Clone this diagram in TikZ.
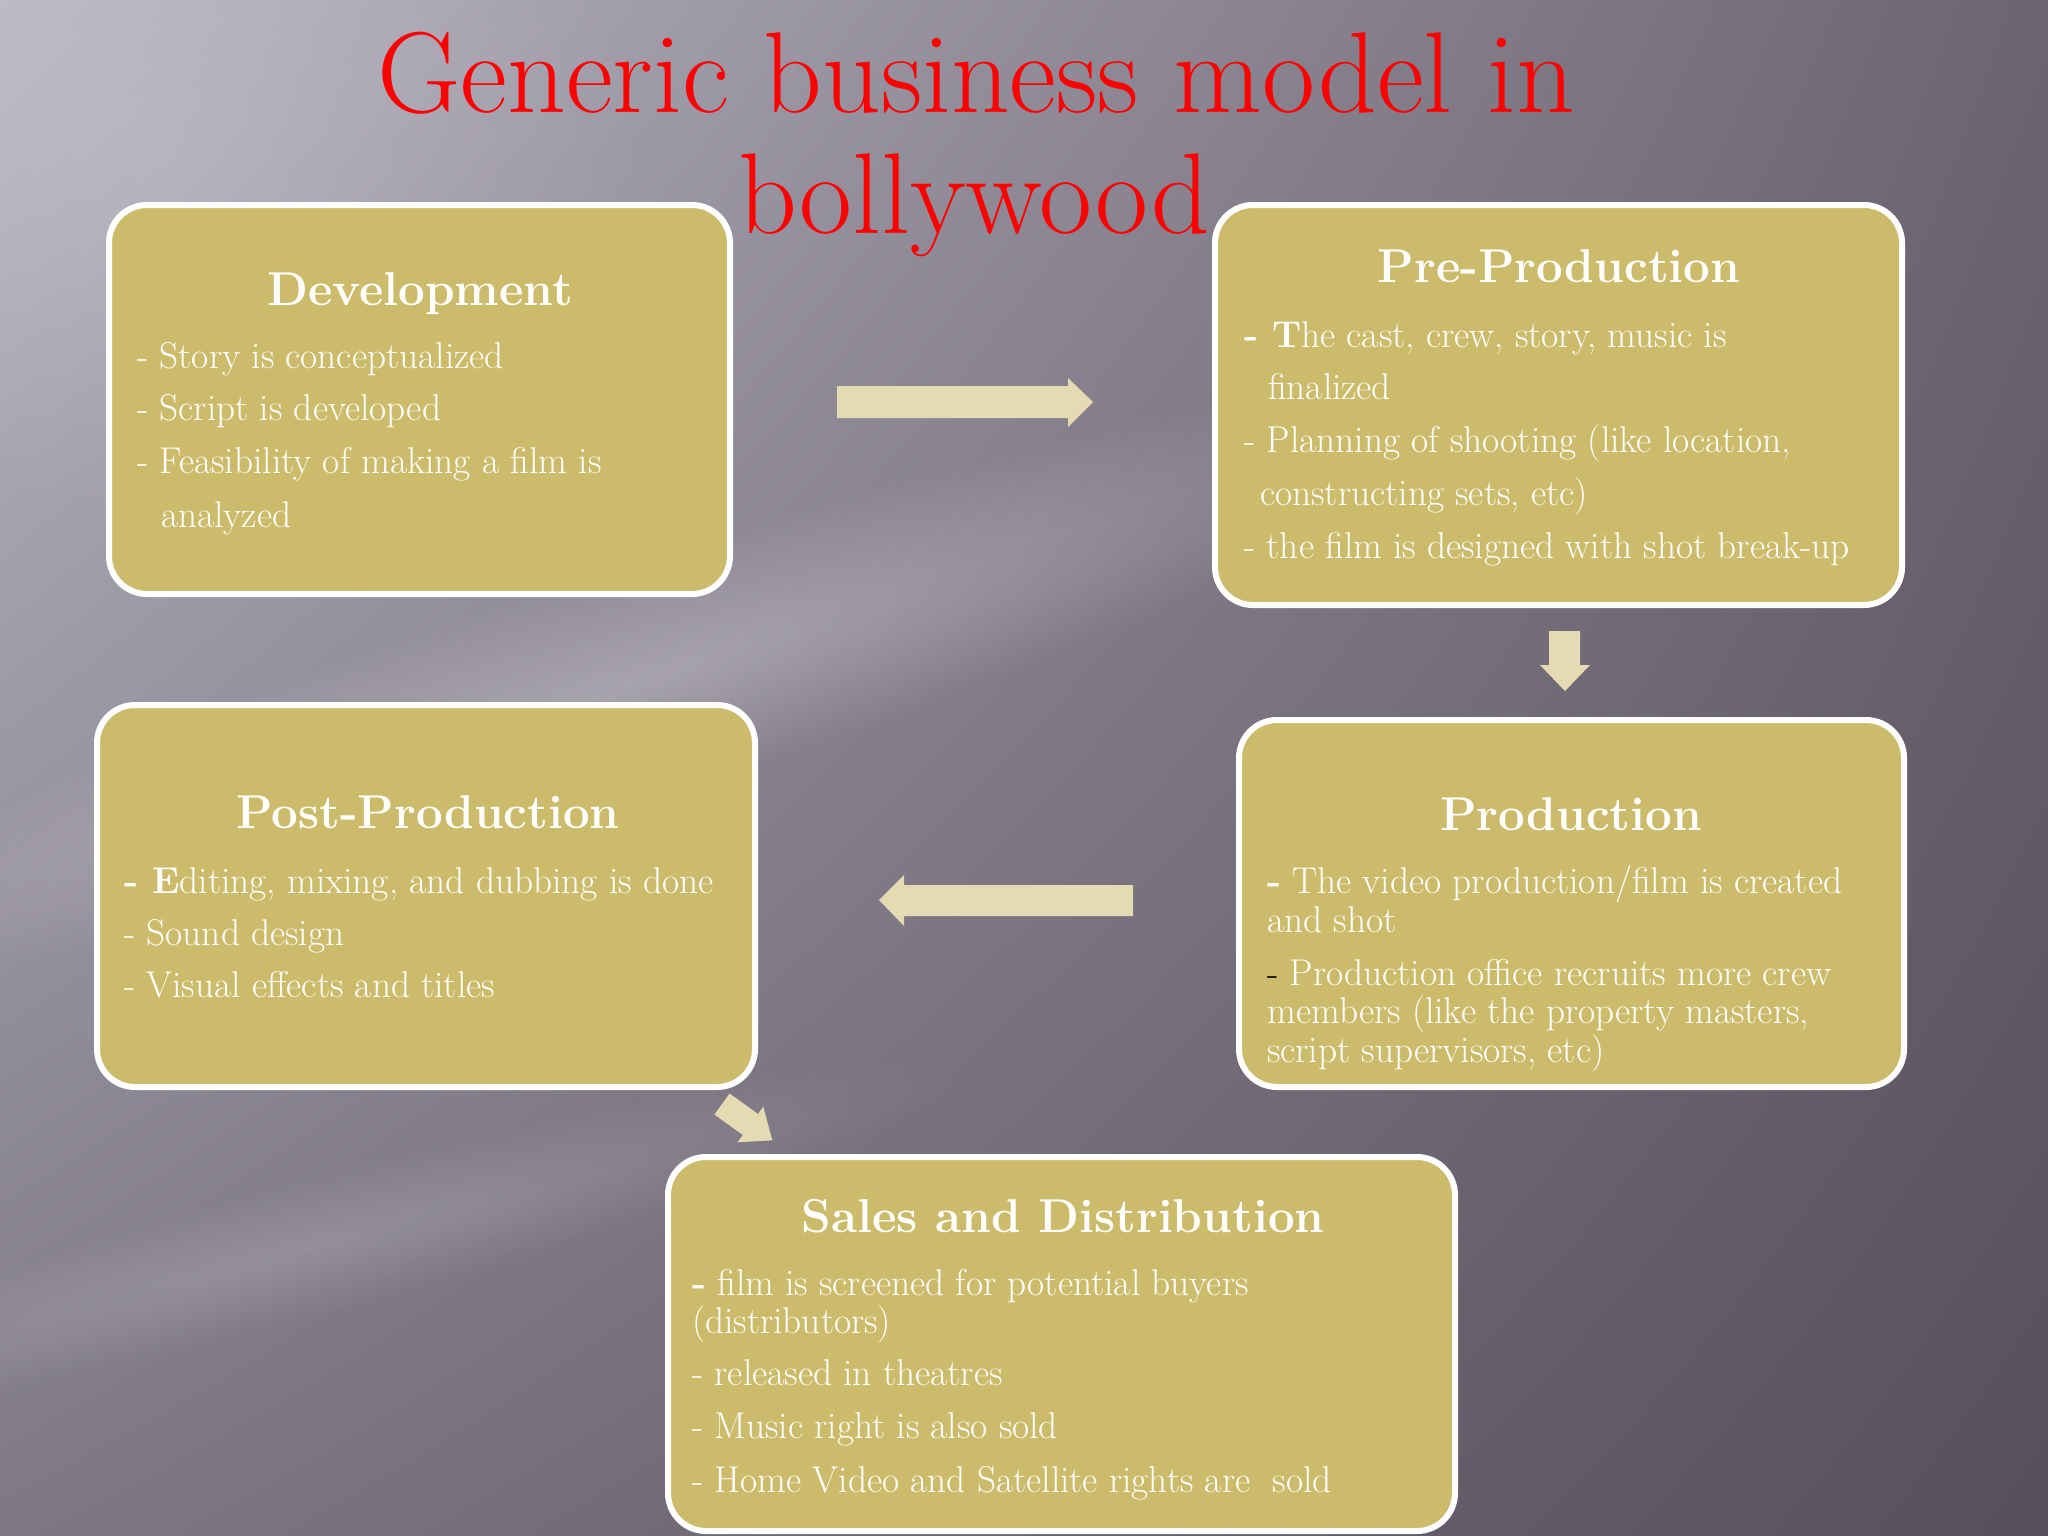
\documentclass[tikz,border=0pt]{standalone}
\usetikzlibrary{fadings,shadings}
\tikzfading[name=softblob, inner color=transparent!0, outer color=transparent!100]
\definecolor{boxfill}{RGB}{204,187,107}
\definecolor{arrowcol}{RGB}{229,219,178}
\definecolor{titlered}{RGB}{255,0,0}
\definecolor{bgUL}{RGB}{186,182,196}
\definecolor{bgUR}{RGB}{108,101,113}
\definecolor{bgLL}{RGB}{125,120,132}
\definecolor{bgLR}{RGB}{88,79,93}
\begin{document}
\begin{tikzpicture}[x=1pt,y=-1pt,
  box/.style={draw=white, line width=6pt, fill=boxfill, rounded corners=38pt, inner sep=0pt, outer sep=0pt},
  head/.style={text=white, font=\fontsize{47.5}{56}\selectfont\bfseries, anchor=base, inner sep=0pt},
  body/.style={text=white, font=\fontsize{37.3}{44}\selectfont, anchor=base west, inner sep=0pt},
  ttl/.style={text=titlered, font=\fontsize{115}{130}\selectfont, anchor=base, inner sep=0pt},
  arr/.style={fill=arrowcol}]
\useasboundingbox (0,0) rectangle (2048,1536);
% background
\shade[upper left=bgUL, upper right=bgUR, lower left=bgLL, lower right=bgLR] (0,0) rectangle (2048,1536);
\begin{scope}
\clip (0,0) rectangle (2048,1536);
\fill[white, opacity=0.12, path fading=softblob, transform canvas={shift={(150,150)}}] (0,0) ellipse (520pt and 380pt);
\fill[white, opacity=0.24, path fading=softblob, transform canvas={shift={(640,680)}, rotate=18}] (0,0) ellipse (900pt and 120pt);
\fill[white, opacity=0.15, path fading=softblob, transform canvas={shift={(300,1250)}, rotate=15}] (0,0) ellipse (700pt and 70pt);
\end{scope}
% boxes
\node[box, minimum width=621pt, minimum height=389pt] (dev) at (419.5,399.5) {};
\node[box, minimum width=687pt, minimum height=400pt] (pre) at (1558.5,405) {};
\node[box, minimum width=658pt, minimum height=382pt] (post) at (426,896) {};
\node[box, minimum width=665pt, minimum height=367pt] (prod) at (1571.5,903.5) {};
\node[box, minimum width=787pt, minimum height=374pt] (sales) at (1061.5,1344) {};
% arrows
\fill[arr] (837,386) -- (1068,386) -- (1068,378) -- (1093,402) -- (1068,427) -- (1068,418) -- (837,418) -- cycle;
\fill[arr] (1549,631) -- (1580,631) -- (1580,665) -- (1590,665) -- (1565,691) -- (1540,665) -- (1549,665) -- cycle;
\fill[arr] (1133,885) -- (904,885) -- (904,875) -- (879,900) -- (904,926) -- (904,916) -- (1133,916) -- cycle;
\fill[arr] (729.6,1093.5) -- (758,1114) -- (763.3,1106.7) -- (772.3,1140.3) -- (737.5,1142.3) -- (742.8,1135) -- (714.4,1114.5) -- cycle;
% Development
\node[head] (devh) at (420,305) {Development};
\node[body] (dev1) at (137,368) {- Story is conceptualized};
\node[body] (dev2) at (137,420) {- Script is developed};
\node[body] (dev3) at (137,473) {- Feasibility of making a film is};
\node[body] (dev4) at (161,527) {analyzed};
% Pre-Production
\node[head] (preh) at (1559,282) {Pre-Production};
\node[body] (pre1) at (1244,347) {\textbf{- T}he cast, crew, story, music is};
\node[body] (pre2) at (1268,399) {finalized};
\node[body] (pre3) at (1244,452) {- Planning of shooting (like location,};
\node[body] (pre4) at (1260,505) {constructing sets, etc)};
\node[body] (pre5) at (1244,558) {- the film is designed with shot break-up};
% Post-Production
\node[head] (posth) at (428,828) {Post-Production};
\node[body] (post1) at (124,893) {\textbf{- E}diting, mixing, and dubbing is done};
\node[body] (post2) at (124,945) {- Sound design};
\node[body] (post3) at (124,997) {- Visual effects and titles};
% Production
\node[head] (prodh) at (1571,830) {Production};
\node[body] (prod1) at (1267,893) {\textbf{-} The video production/film is created};
\node[body] (prod2) at (1267,932) {and shot};
\node[body] (prod3) at (1267,985) {{\color{black}-} Production office recruits more crew};
\node[body] (prod4) at (1267,1023) {members (like the property masters,};
\node[body] (prod5) at (1267,1062) {script supervisors, etc)};
% Sales
\node[head] (salesh) at (1063,1232) {Sales and Distribution};
\node[body] (sales1) at (692,1295) {\textbf{-} film is screened for potential buyers};
\node[body] (sales2) at (692,1333) {(distributors)};
\node[body] (sales3) at (692,1385) {- released in theatres};
\node[body] (sales4) at (692,1438) {- Music right is also sold};
\node[body] (sales5) at (692,1492) {- Home Video and Satellite rights are\ \ sold};
% title
\node[ttl] (title1) at (976,113) {Generic business model in};
\node[ttl] (title2) at (974,233) {bollywood};
\end{tikzpicture}
\end{document}
